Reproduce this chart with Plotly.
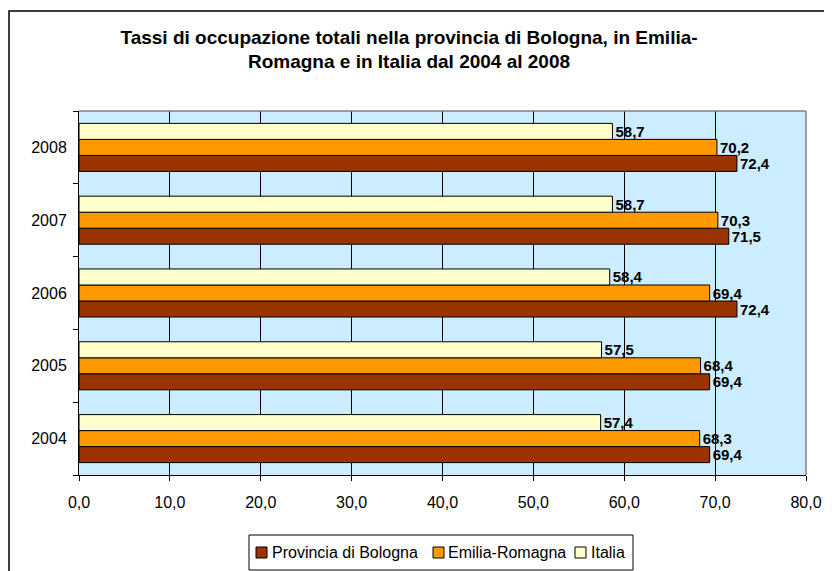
import plotly.graph_objects as go

# anni e tassi di occupazione (%)
anni = ['2004', '2005', '2006', '2007', '2008']
bologna = [69.4, 69.4, 72.4, 71.5, 72.4]
emilia = [68.3, 68.4, 69.4, 70.3, 70.2]
italia = [57.4, 57.5, 58.4, 58.7, 58.7]
x_ticks = [0, 10, 20, 30, 40, 50, 60, 70, 80]
x_labels = ['0,0', '10,0', '20,0', '30,0', '40,0', '50,0', '60,0', '70,0', '80,0']
serie = ['Provincia di Bologna', 'Emilia-Romagna', 'Italia']
colori = ['#993300', '#FF9900', '#FFFFCC']

def lab(v):
    return [f'{x:.1f}'.replace('.', ',') for x in v]

# conversione pixel dello schermo -> coordinate paper (area grafico 79..806 x 111..475)
def px(x):
    return (x - 79) / 727

def py(y):
    return (475 - y) / 364

fig = go.Figure()
for nome, vals, col in zip(serie, [bologna, emilia, italia], colori):
    fig.add_trace(go.Bar(
        y=anni, x=vals, name=nome, orientation='h',
        marker=dict(color=col, line=dict(color='black', width=1)),
        text=lab(vals), textposition='outside', cliponaxis=False,
        constraintext='none', showlegend=False,
        textfont=dict(family='Liberation Sans', size=15, color='black', weight='bold'),
    ))

fig.update_layout(
    width=832, height=571,
    barmode='group', bargap=0.34, bargroupgap=0,
    paper_bgcolor='white', plot_bgcolor='#CCECFF',
    margin=dict(l=71, r=34, t=103, b=104, autoexpand=False),
    font=dict(family='Liberation Sans', size=16, color='black'),
    title=dict(text='<b>Tassi di occupazione totali nella provincia di Bologna, in Emilia-<br>Romagna e in Italia dal 2004 al 2008</b>',
               x=0.482, xanchor='center', y=0.9375, yanchor='top',
               font=dict(size=19, family='Liberation Sans')),
    xaxis=dict(range=[0, 80], tickvals=x_ticks, ticktext=x_labels,
               showgrid=True, gridcolor='black', gridwidth=1,
               showline=True, linecolor='black', linewidth=1,
               ticks='outside', ticklen=5, tickcolor='black', zeroline=False,
               ticklabelstandoff=8),
    yaxis=dict(type='category', categoryorder='array', categoryarray=anni,
               showline=True, linecolor='black', linewidth=1,
               ticks='outside', ticklen=5, tickcolor='black', tickson='boundaries',
               showgrid=False, ticklabelstandoff=8),
)

# bordo grigio dell'area del grafico (alto e destra)
fig.add_shape(type='line', xref='paper', yref='paper', x0=0, x1=1, y0=1, y1=1,
              line=dict(color='#808080', width=1.5))
fig.add_shape(type='line', xref='paper', yref='paper', x0=1, x1=1, y0=0, y1=1,
              line=dict(color='#808080', width=1.5))
# cornice esterna
fig.add_shape(type='rect', xref='paper', yref='paper', x0=px(9), x1=px(845), y0=py(585), y1=py(11),
              line=dict(color='black', width=1.5), layer='below')

# legenda compatta in stile Excel
fig.add_shape(type='rect', xref='paper', yref='paper', x0=px(249), x1=px(633), y0=py(570), y1=py(535),
              line=dict(color='black', width=1), fillcolor='white')
sym_x = [256, 433, 575]
txt_x = [272, 448, 591]
for nome, col, sx, tx in zip(serie, colori, sym_x, txt_x):
    fig.add_shape(type='rect', xref='paper', yref='paper', x0=px(sx), x1=px(sx + 11),
                  y0=py(558), y1=py(547), line=dict(color='black', width=1), fillcolor=col)
    fig.add_annotation(xref='paper', yref='paper', x=px(tx), y=py(552), text=nome,
                       showarrow=False, xanchor='left', yanchor='middle',
                       font=dict(size=16), xshift=-2)

fig.write_html('out.html')
